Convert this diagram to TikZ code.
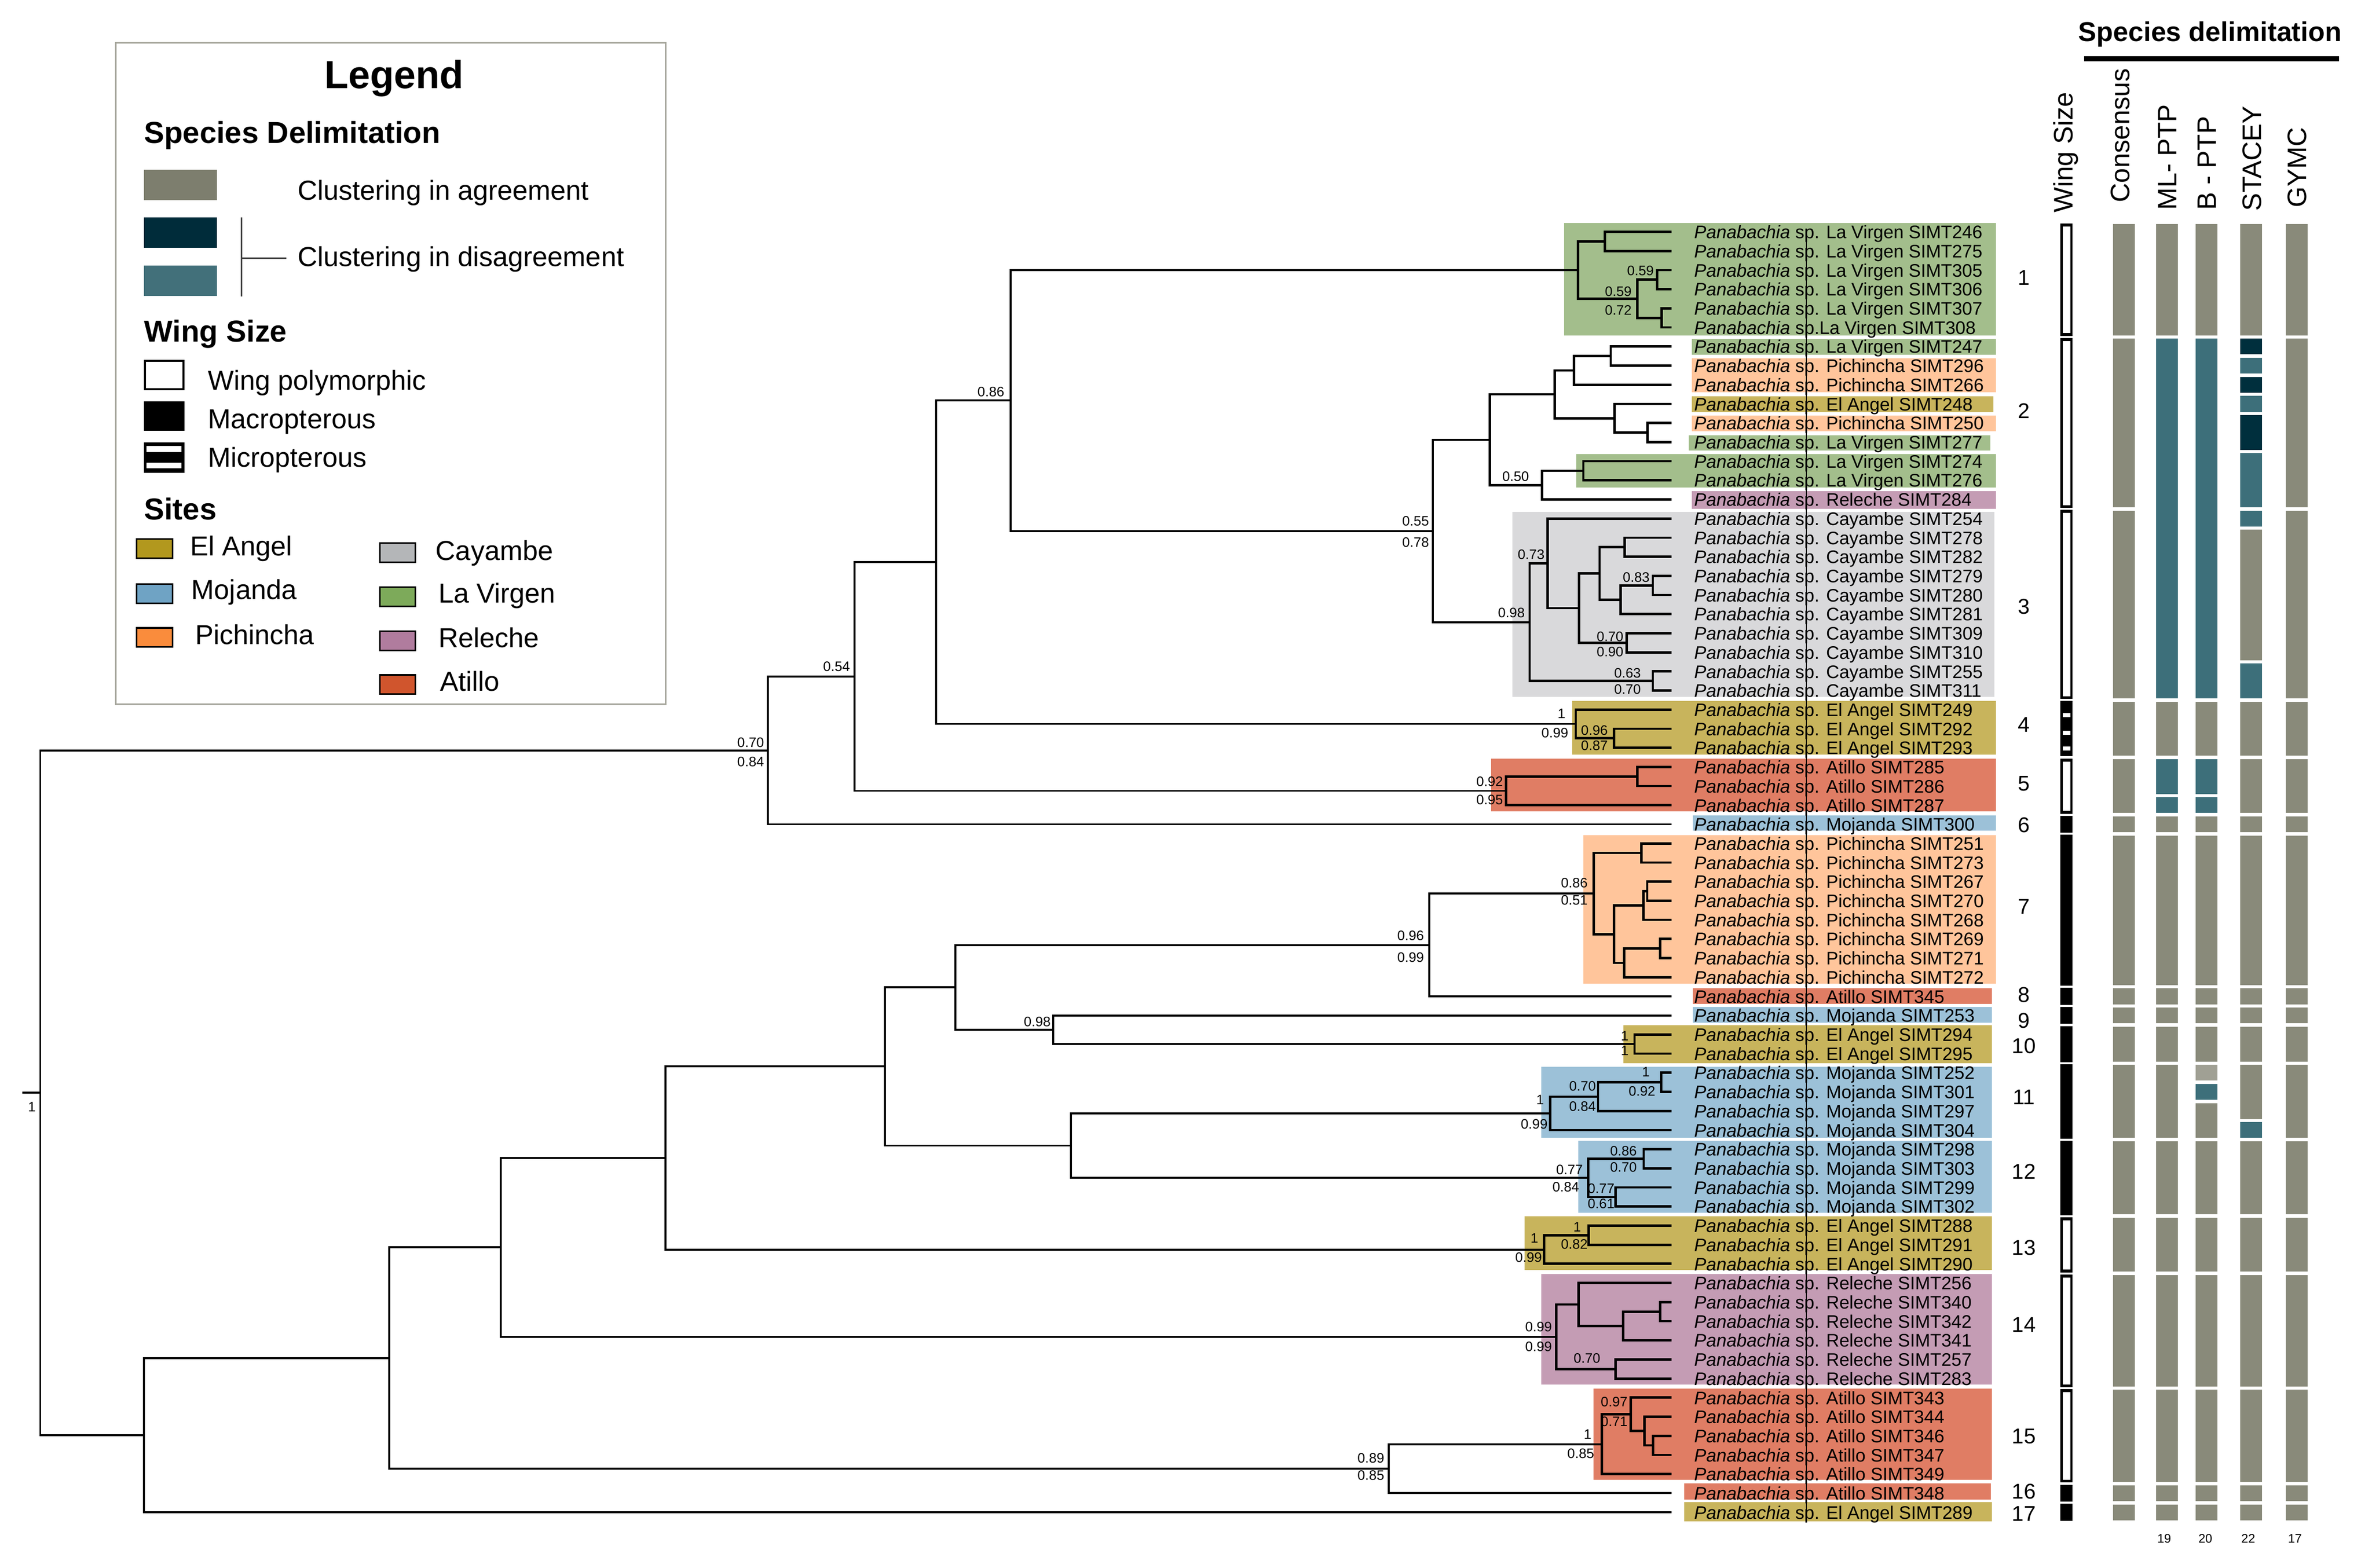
\documentclass[tikz,border=0pt]{standalone}
\usepackage{fontspec}
\setmainfont{Liberation Sans}
\definecolor{agree}{RGB}{137,138,122}
\definecolor{teal2}{RGB}{61,111,122}
\definecolor{navy2}{RGB}{0,47,61}
\definecolor{lgray}{RGB}{160,160,148}
\definecolor{legagree}{RGB}{125,126,110}
\definecolor{legteal}{RGB}{66,112,122}
\definecolor{legnavy}{RGB}{0,44,58}
\definecolor{cElAngel}{RGB}{178,152,30}
\definecolor{cMojanda}{RGB}{111,163,196}
\definecolor{cPichincha}{RGB}{250,140,60}
\definecolor{cCayambe}{RGB}{180,182,184}
\definecolor{cLaVirgen}{RGB}{125,170,90}
\definecolor{cReleche}{RGB}{176,124,158}
\definecolor{cAtillo}{RGB}{208,85,45}
\definecolor{bLaVirgen}{RGB}{163,190,140}
\definecolor{bPichincha}{RGB}{255,197,155}
\definecolor{bElAngel}{RGB}{200,180,92}
\definecolor{bReleche}{RGB}{196,156,180}
\definecolor{bCayambe}{RGB}{217,217,219}
\definecolor{bAtillo}{RGB}{224,125,100}
\definecolor{bMojanda}{RGB}{156,193,216}
\definecolor{legframe}{RGB}{165,165,155}
\newcommand{\tipy}[1]{152.5+(#1-1)*12.57}
\newcommand{\dbar}[4]{\fill[#4] (#1,{\tipy{#2}-5.2}) rectangle ({#1+14.4},{\tipy{#3}+5.2});}
\newcommand{\wmacro}[2]{\fill[black] (1355,{\tipy{#1}-5.6}) rectangle (1363,{\tipy{#2}+5.6});}
\newcommand{\wpoly}[2]{\fill[black] (1355,{\tipy{#1}-5.6}) rectangle (1363,{\tipy{#2}+5.6});
  \fill[white] (1356.7,{\tipy{#1}-3.6}) rectangle (1361.5,{\tipy{#2}+3.8});}
\begin{document}
\begin{tikzpicture}[x=0.03cm,y=-0.03cm,
  br/.style={line width=1.1pt, line cap=rect},
  cbr/.style={line width=1.35pt, line cap=rect},
  sup/.style={font=\fontsize{7.7}{8}\selectfont, inner sep=0pt, anchor=east},
  tiplab/.style={font=\fontsize{10.2}{12}\selectfont, inner sep=0pt, anchor=base west},
  cnum/.style={font=\fontsize{12}{14}\selectfont, inner sep=0pt},
  colhead/.style={font=\fontsize{15}{17}\selectfont, rotate=90, anchor=west, inner sep=0pt},
  legtxt/.style={font=\fontsize{15.4}{18}\selectfont, inner sep=0pt, anchor=base west},
  legbold/.style={font=\fontsize{17}{20}\selectfont\bfseries, inner sep=0pt, anchor=base west},
  botnum/.style={font=\fontsize{7}{8}\selectfont, inner sep=0pt}
]
\useasboundingbox (0,0) rectangle (1560,1031.33);
\fill[white] (0,0) rectangle (1560,1031.33);

% ---------- clade / site highlight boxes ----------
\foreach \c/\xa/\ya/\xb/\yb in {
 bLaVirgen/1028.5/146.6/1312.6/220.7, bLaVirgen/1112.6/223/1312.6/233.2,
 bPichincha/1112.6/235.5/1312.6/258.1, bElAngel/1112.6/260.7/1311/270.9,
 bPichincha/1112.6/273.2/1312.6/283.7, bLaVirgen/1110.8/286.2/1309/296.4,
 bLaVirgen/1036.7/298.7/1312.6/320.7, bReleche/1112.6/323/1312.6/334.8,
 bCayambe/994.7/336.7/1311.8/458.2, bElAngel/1033.9/461.1/1312.6/496.2,
 bAtillo/980.6/498.9/1312.6/533.7, bMojanda/1113.3/536.4/1312.6/546.3,
 bPichincha/1041.2/549.2/1312.6/646.9, bAtillo/1113.3/650/1310.1/660.3,
 bMojanda/1113.3/662.4/1310.1/672.8, bElAngel/1067.6/674.4/1310.1/699.4,
 bMojanda/1013.8/701.7/1310.1/748.3, bMojanda/1038/750.3/1310.1/797.8,
 bElAngel/1002.6/800/1310.1/835.2, bReleche/1013.8/838.1/1310.1/910.5,
 bAtillo/1048.1/913.3/1310.1/973.2, bAtillo/1107.7/975.6/1309.4/986.3,
 bElAngel/1107.7/988.1/1310.1/1000.6}
 \fill[\c] (\xa,\ya) rectangle (\xb,\yb);

% ---------- tips ----------
\foreach \i/\s in {1/sp. La Virgen SIMT246, 2/sp. La Virgen SIMT275, 3/sp. La Virgen SIMT305,
 4/sp. La Virgen SIMT306, 5/sp. La Virgen SIMT307, 6/sp.La Virgen SIMT308,
 7/sp. La Virgen SIMT247, 8/sp. Pichincha SIMT296, 9/sp. Pichincha SIMT266,
 10/sp. El Angel SIMT248, 11/sp. Pichincha SIMT250, 12/sp. La Virgen SIMT277,
 13/sp. La Virgen SIMT274, 14/sp. La Virgen SIMT276, 15/sp. Releche SIMT284,
 16/sp. Cayambe SIMT254, 17/sp. Cayambe SIMT278, 18/sp. Cayambe SIMT282,
 19/sp. Cayambe SIMT279, 20/sp. Cayambe SIMT280, 21/sp. Cayambe SIMT281,
 22/sp. Cayambe SIMT309, 23/sp. Cayambe SIMT310, 24/sp. Cayambe SIMT255,
 25/sp. Cayambe SIMT311, 26/sp. El Angel SIMT249, 27/sp. El Angel SIMT292,
 28/sp. El Angel SIMT293, 29/sp. Atillo SIMT285, 30/sp. Atillo SIMT286,
 31/sp. Atillo SIMT287, 32/sp. Mojanda SIMT300, 33/sp. Pichincha SIMT251,
 34/sp. Pichincha SIMT273, 35/sp. Pichincha SIMT267, 36/sp. Pichincha SIMT270,
 37/sp. Pichincha SIMT268, 38/sp. Pichincha SIMT269, 39/sp. Pichincha SIMT271,
 40/sp. Pichincha SIMT272, 41/sp. Atillo SIMT345, 42/sp. Mojanda SIMT253,
 43/sp. El Angel SIMT294, 44/sp. El Angel SIMT295, 45/sp. Mojanda SIMT252,
 46/sp. Mojanda SIMT301, 47/sp. Mojanda SIMT297, 48/sp. Mojanda SIMT304,
 49/sp. Mojanda SIMT298, 50/sp. Mojanda SIMT303, 51/sp. Mojanda SIMT299,
 52/sp. Mojanda SIMT302, 53/sp. El Angel SIMT288, 54/sp. El Angel SIMT291,
 55/sp. El Angel SIMT290, 56/sp. Releche SIMT256, 57/sp. Releche SIMT340,
 58/sp. Releche SIMT342, 59/sp. Releche SIMT341, 60/sp. Releche SIMT257,
 61/sp. Releche SIMT283, 62/sp. Atillo SIMT343, 63/sp. Atillo SIMT344,
 64/sp. Atillo SIMT346, 65/sp. Atillo SIMT347, 66/sp. Atillo SIMT349,
 67/sp. Atillo SIMT348, 68/sp. El Angel SIMT289}
{
 \coordinate (t\i) at (1098.6,{\tipy{\i}});
 \node[tiplab] (lab\i) at (1114,{\tipy{\i}+4.4}) {\textit{Panabachia} \s};
}
\coordinate (spT) at (1188,158);
\coordinate (spB) at (1188,1001);
\draw[line width=0.5pt] (spT) -- (spB);

% ---------- internal nodes ----------
\coordinate (rstub) at (15.3,718.77);
\coordinate (root) at (26.5,718.77);
\coordinate (A) at (505,493.58);
\coordinate (B) at (562,444.985);
\coordinate (C) at (615.6,369.8);
\coordinate (D) at (664.7,263.42);
\coordinate (E) at (942.3,349.2);
\coordinate (F) at (979.8,289.2);
\coordinate (G) at (1022.5,259.345);
\coordinate (H) at (1014.2,319.05);
\coordinate (G1) at (1059.3,234.205);
\coordinate (G2) at (1035.2,243.63);
\coordinate (G3) at (1083.4,284.485);
\coordinate (G4) at (1061.7,275.06);
\coordinate (H2) at (1041.3,309.625);
\coordinate (r1) at (1037.8,177.64);
\coordinate (c1a) at (1055.4,158.785);
\coordinate (c1b) at (1076.9,196.495);
\coordinate (c1c) at (1089.7,183.925);
\coordinate (c1d) at (1092.7,209.065);
\coordinate (K) at (1006,409.2);
\coordinate (K1) at (1017.7,370.51);
\coordinate (K2) at (1038.6,399.97);
\coordinate (K3) at (1052,377.19);
\coordinate (K4) at (1068.6,359.905);
\coordinate (K5) at (1065.9,394.47);
\coordinate (K6) at (1087,385.045);
\coordinate (K7) at (1069.9,422.755);
\coordinate (K8) at (1087,447.895);
\coordinate (r4) at (1036.3,476.18);
\coordinate (c4a) at (1061.5,485.605);
\coordinate (r5) at (990.6,520.17);
\coordinate (c5a) at (1076.7,510.745);
\coordinate (L) at (94.6,943.955);
\coordinate (M) at (256.1,893.22);
\coordinate (N) at (329.3,820.425);
\coordinate (O) at (437.8,761.65);
\coordinate (P) at (582.1,701.455);
\coordinate (Q) at (628.4,649.41);
\coordinate (R) at (939.9,621.52);
\coordinate (S) at (692.8,677.3);
\coordinate (T) at (704.3,753.5);
\coordinate (V) at (1048.1,587.735);
\coordinate (V1) at (1079.6,561.025);
\coordinate (V2) at (1061.5,614.445);
\coordinate (V3) at (1080.8,595.59);
\coordinate (V4) at (1068.1,633.3);
\coordinate (V5) at (1083.3,586.165);
\coordinate (V6) at (1091.8,623.875);
\coordinate (r10) at (1075,686.725);
\coordinate (r11) at (1019.4,732.29);
\coordinate (c11a) at (1051,721.29);
\coordinate (c11b) at (1092.6,711.865);
\coordinate (r12) at (1044.4,774.715);
\coordinate (c12a) at (1081,762.145);
\coordinate (c12b) at (1062.5,787.285);
\coordinate (r13) at (1015.6,821.85);
\coordinate (c13a) at (1044.9,812.425);
\coordinate (r14) at (1023.6,879.2);
\coordinate (c14a) at (1038.1,857.99);
\coordinate (c14b) at (1067.4,872.13);
\coordinate (c14c) at (1091.8,862.705);
\coordinate (c14d) at (1062.5,900.415);
\coordinate (U) at (913.4,966.015);
\coordinate (r15) at (1053.5,949.91);
\coordinate (c15a) at (1072.5,930.27);
\coordinate (c15b) at (1081.6,941.27);
\coordinate (c15c) at (1087.2,950.695);

% ---------- branches ----------
\draw[br] (rstub) -- (root);
\foreach \p/\c in {root/A, root/L, A/B, A/t32, B/C, B/r5, C/D, C/r4, D/r1, D/E, E/F, E/K,
 L/M, L/t68, M/N, M/U, N/O, N/r14, O/P, O/r13, P/Q, P/T, Q/R, Q/S, R/V, R/t41,
 S/t42, S/r10, T/r11, T/r12, U/r15, U/t67}
 \draw[br] (\p) |- (\c);
\foreach \p/\c in {F/G, F/H, G/G2, G/G4, G2/G1, G2/t9, G1/t7, G1/t8, G4/t10, G4/G3,
 G3/t11, G3/t12, H/H2, H/t15, H2/t13, H2/t14,
 r1/c1a, r1/c1b, c1a/t1, c1a/t2, c1b/c1c, c1b/c1d, c1c/t3, c1c/t4, c1d/t5, c1d/t6,
 K/K1, K/K8, K1/t16, K1/K2, K2/K3, K2/K7, K3/K4, K3/K5, K4/t17, K4/t18, K5/K6, K5/t21,
 K6/t19, K6/t20, K7/t22, K7/t23, K8/t24, K8/t25,
 r4/t26, r4/c4a, c4a/t27, c4a/t28, r5/c5a, r5/t31, c5a/t29, c5a/t30,
 V/V1, V/V2, V1/t33, V1/t34, V2/V3, V2/V4, V3/V5, V3/t37, V5/t35, V5/t36,
 V4/V6, V4/t40, V6/t38, V6/t39, r10/t43, r10/t44,
 r11/c11a, r11/t48, c11a/c11b, c11a/t47, c11b/t45, c11b/t46,
 r12/c12a, r12/c12b, c12a/t49, c12a/t50, c12b/t51, c12b/t52,
 r13/c13a, r13/t55, c13a/t53, c13a/t54,
 r14/c14a, r14/c14d, c14a/t56, c14a/c14b, c14b/c14c, c14b/t59, c14c/t57, c14c/t58,
 c14d/t60, c14d/t61,
 r15/c15a, r15/t66, c15a/t62, c15a/c15b, c15b/t63, c15b/c15c, c15c/t64, c15c/t65}
 \draw[cbr] (\p) |- (\c);

% ---------- support values ----------
\node[sup, anchor=center] (s0) at (21,728) {1};
\foreach \x/\y/\v [count=\k] in {502.7/488.3/0.70, 502.7/501/0.84, 559.2/438.3/0.54,
 660.7/257.8/0.86, 940/342.7/0.55, 940/356.7/0.78, 1005.8/313.4/0.50,
 1003/403/0.98, 1016/364.7/0.73, 1085.1/379.6/0.83, 1067.9/418.6/0.70, 1067.9/428.7/0.90,
 1079.4/442.6/0.63, 1079.4/453.5/0.70, 1073.3/191.7/0.59, 1073.3/203.9/0.72,
 1087.9/178.1/0.59, 1029.7/469.4/1, 1031.6/482.2/0.99, 1057.6/480.3/0.96, 1057.6/490.5/0.87,
 988.7/514/0.92, 988.7/526/0.95, 1044.4/580.7/0.86, 1044.4/591.9/0.51,
 936.7/615.5/0.96, 936.7/629.8/0.99, 691.2/672/0.98, 1071.3/681.5/1, 1071.3/691.1/1,
 1015.6/723.3/1, 1018/739.4/0.99, 1049.8/714.4/0.70, 1049.8/727.8/0.84,
 1085.2/705/1, 1088.9/717.8/0.92, 1041.2/769.4/0.77, 1038.8/780.6/0.84,
 1076.7/757.2/0.86, 1076.7/767.8/0.70, 1062/781.7/0.77, 1062/791.7/0.61,
 1011.9/814.4/1, 1014.3/827.2/0.99, 1040/807.2/1, 1044.4/818.3/0.82,
 1020.9/872.6/0.99, 1020.9/885.7/0.99, 1052.7/893.5/0.70,
 910.6/959/0.89, 910.6/970.5/0.85, 1046.9/943.5/1, 1048.6/956/0.85,
 1070.6/922/0.97, 1070.6/935.1/0.71}
 \node[sup] (sv\k) at (\x,\y) {\v};

% ---------- clade numbers ----------
\foreach \n/\y in {1/182.8, 2/270.3, 3/399.1, 4/476.6, 5/515.4, 6/542.8, 7/596.2, 8/654.4,
 9/671.2, 10/687.9, 11/721.7, 12/770.6, 13/820.6, 14/871.4, 15/944.6, 16/981, 17/995.8}
 \node[cnum] (cn\n) at (1331,\y) {\n};

% ---------- header ----------
\node[font=\fontsize{15.3}{18}\selectfont\bfseries, anchor=base, inner sep=0pt] (hSD) at (1453.5,27.2) {Species delimitation};
\coordinate (ulA) at (1370.6,38.7);
\coordinate (ulB) at (1538.3,38.7);
\draw[line width=2.8pt] (ulA) -- (ulB);
\node[colhead] (hW) at (1358.5,140) {Wing Size};
\node[colhead] (hC) at (1394.3,133.3) {Consensus};
\node[colhead] (hML) at (1425.5,138.3) {ML- PTP};
\node[colhead] (hB) at (1451.6,138.3) {B - PTP};
\node[colhead] (hS) at (1481.2,138.9) {STACEY};
\node[colhead] (hG) at (1510.8,136.7) {GYMC};

% ---------- wing size column ----------
\wpoly{1}{6} \wpoly{7}{15} \wpoly{16}{25}
\wmacro{26}{28}
\foreach \yy in {470.3,481.9,492.4} \fill[white] (1356.8,{\yy-1.4}) rectangle (1361.5,{\yy+1.4});
\wpoly{29}{31}
\wmacro{32}{32} \wmacro{33}{40} \wmacro{41}{41} \wmacro{42}{42} \wmacro{43}{44}
\wmacro{45}{48} \wmacro{49}{52}
\wpoly{53}{55} \wpoly{56}{61} \wpoly{62}{66}
\wmacro{67}{67} \wmacro{68}{68}

% ---------- delimitation columns ----------
\foreach \a/\b in {1/6,7/15,16/25,26/28,29/31,32/32,33/40,41/41,42/42,43/44,45/48,49/52,53/55,56/61,62/66,67/67,68/68}
 { \dbar{1389.5}{\a}{\b}{agree} \dbar{1503.2}{\a}{\b}{agree} }
\foreach \a/\b/\c in {1/6/agree,7/25/teal2,26/28/agree,29/30/teal2,31/31/teal2,32/32/agree,
 33/40/agree,41/41/agree,42/42/agree,43/44/agree,45/48/agree,49/52/agree,53/55/agree,
 56/61/agree,62/66/agree,67/67/agree,68/68/agree}
 { \dbar{1418}{\a}{\b}{\c} }
\foreach \a/\b/\c in {1/6/agree,7/25/teal2,26/28/agree,29/30/teal2,31/31/teal2,32/32/agree,
 33/40/agree,41/41/agree,42/42/agree,43/44/agree,45/45/lgray,46/46/teal2,47/48/agree,
 49/52/agree,53/55/agree,56/61/agree,62/66/agree,67/67/agree,68/68/agree}
 { \dbar{1444}{\a}{\b}{\c} }
\foreach \a/\b/\c in {1/6/agree,7/7/navy2,8/8/teal2,9/9/navy2,10/10/teal2,11/12/navy2,
 13/15/teal2,16/16/teal2,17/23/agree,24/25/teal2,26/28/agree,29/31/agree,32/32/agree,
 33/40/agree,41/41/agree,42/42/agree,43/44/agree,45/47/agree,48/48/teal2,
 49/52/agree,53/55/agree,56/61/agree,62/66/agree,67/67/agree,68/68/agree}
 { \dbar{1473.3}{\a}{\b}{\c} }
\node[botnum] (n19) at (1423.3,1012) {19};
\node[botnum] (n20) at (1450.4,1012) {20};
\node[botnum] (n22) at (1478.6,1012) {22};
\node[botnum] (n17) at (1509.3,1012) {17};

% ---------- legend ----------
\coordinate (legTL) at (76.2,28.1);
\coordinate (legBR) at (437.9,463.2);
\draw[legframe, line width=1pt] (legTL) rectangle (legBR);
\node[font=\fontsize{22}{26}\selectfont\bfseries, anchor=base, inner sep=0pt] (legT) at (259.2,58.3) {Legend};
\node[legbold] (legSD) at (94.6,94.3) {Species Delimitation};
\fill[legagree] (94.6,111.8) rectangle (142.5,131.6);
\fill[legnavy] (94.6,142.9) rectangle (142.5,162.9);
\fill[legteal] (94.6,174.7) rectangle (142.5,194.5);
\coordinate (brT) at (158.8,143.1);
\coordinate (brB) at (158.8,195);
\coordinate (brM) at (158.8,169.9);
\coordinate (brE) at (188.3,169.9);
\draw[line width=0.7pt, black!75] (brT) -- (brB);
\draw[line width=0.7pt, black!75] (brM) -- (brE);
\node[legtxt] (legCA) at (195.6,131.6) {Clustering in agreement};
\node[legtxt] (legCD) at (195.6,175.3) {Clustering in disagreement};
\node[legbold] (legWS) at (94.6,224.9) {Wing Size};
\draw[line width=1.1pt] (95.2,237.4) rectangle (120.6,255.9);
\fill[black] (94.6,264.1) rectangle (121.2,283.3);
\fill[black] (94.6,290.9) rectangle (121.2,310.9);
\fill[white] (96.4,293.4) rectangle (119.4,297.4);
\fill[white] (96.4,304.4) rectangle (119.4,308.1);
\node[legtxt] (legWP) at (136.6,256.5) {Wing polymorphic};
\node[legtxt] (legMa) at (136.6,281.9) {Macropterous};
\node[legtxt] (legMi) at (136.6,307.3) {Micropterous};
\node[legbold] (legSi) at (94.6,341.7) {Sites};
\foreach \c/\xa/\ya/\tx/\ty/\t in {
 cElAngel/89.9/354.6/124.8/365.6/El Angel, cMojanda/89.9/384.3/125.7/394.2/Mojanda,
 cPichincha/89.9/413/128.1/423.7/Pichincha, cCayambe/249.8/357.2/286.4/368.4/Cayambe,
 cLaVirgen/249.8/386.2/288.1/396.5/La Virgen, cReleche/249.8/415.3/288.1/425.9/Releche,
 cAtillo/249.8/444/289.2/454.6/Atillo}
{
 \filldraw[fill=\c, draw=black, line width=0.9pt] (\xa,\ya) rectangle ({\xa+23.5},{\ya+12.6});
 \node[legtxt] at (\tx,\ty) {\t};
}
\end{tikzpicture}
\end{document}
